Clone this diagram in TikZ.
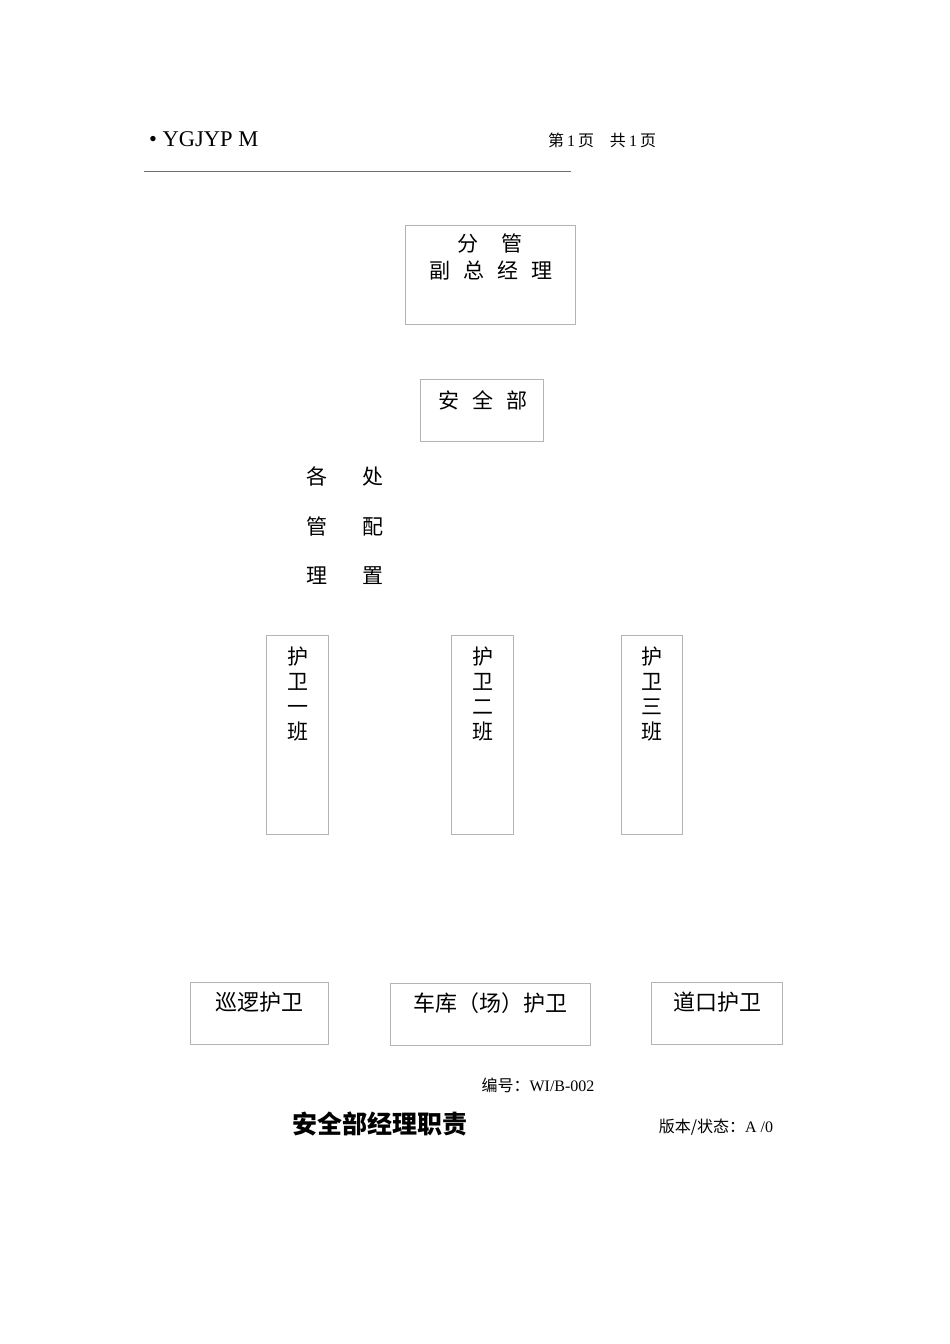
\documentclass[tikz,border=0pt]{standalone}
\usepackage{fontspec}
\setmainfont{Liberation Serif}
\newfontfamily\cjk{Noto Sans CJK SC}
\definecolor{boxgray}{HTML}{B4B4B4}
\definecolor{rulegray}{HTML}{707070}
\begin{document}
\begin{tikzpicture}[x=1pt,y=-1pt,
  box/.style={draw=boxgray,line width=0.8pt,inner sep=0pt,anchor=north west},
  lbl/.style={inner sep=0pt,anchor=center,text=black},
  cj/.style={lbl,font=\cjk\fontsize{21}{25}\selectfont},
  vcol/.style={lbl,align=center,font=\cjk\fontsize{21}{25.3}\selectfont},
  small/.style={lbl,font=\fontsize{16}{18}\selectfont}]
\useasboundingbox[fill=white] (0,0) rectangle (950,1344);
% header
\node[lbl,anchor=west,font=\fontsize{22.5}{24}\selectfont] (hdl) at (149,139) {• YGJYP M};
\node[small] (hdr) at (602,140) {{\cjk 第}\hspace{3pt}1\hspace{3pt}{\cjk 页}\hspace{16pt}{\cjk 共}\hspace{3pt}1\hspace{3pt}{\cjk 页}};
\coordinate (r1) at (144,171);
\coordinate (r2) at (571,171);
\draw[rulegray,line width=1pt] (r1) -- (r2);
% boxes
\node[box,minimum width=170pt,minimum height=99pt] (fg) at (405,225) {};
\node[box,minimum width=123pt,minimum height=62pt] (aq) at (420,379) {};
\node[box,minimum width=62pt,minimum height=199pt] (h1) at (266,635) {};
\node[box,minimum width=62pt,minimum height=199pt] (h2) at (451,635) {};
\node[box,minimum width=61pt,minimum height=199pt] (h3) at (621,635) {};
\node[box,minimum width=138pt,minimum height=62pt] (xl) at (190,982) {};
\node[box,minimum width=200pt,minimum height=62pt] (ck) at (390,983) {};
\node[box,minimum width=131pt,minimum height=62pt] (dk) at (651,982) {};
% texts in boxes
\node[cj] (fgt1) at (490,244) {分\hspace{24pt}管};
\node[cj] (fgt2) at (491,271) {副\hspace{13pt}总\hspace{13pt}经\hspace{13pt}理};
\node[cj] (aqt) at (483,400) {安\hspace{13pt}全\hspace{13pt}部};
\node[vcol] (h1t) at (298,694) {护\\卫\\一\\班};
\node[vcol] (h2t) at (483,694) {护\\卫\\二\\班};
\node[vcol] (h3t) at (652,694) {护\\卫\\三\\班};
\node[lbl,font=\cjk\fontsize{22}{24}\selectfont] (xlt) at (259,1002) {巡逻护卫};
\node[lbl,font=\cjk\fontsize{22}{24}\selectfont] (ckt) at (490,1003) {车库（场）护卫};
\node[lbl,font=\cjk\fontsize{22}{24}\selectfont] (dkt) at (717,1002) {道口护卫};
% free text
\node[lbl,align=center,font=\cjk\fontsize{21}{49.5}\selectfont] (gc) at (345,526) {各\hspace{35pt}处\\管\hspace{35pt}配\\理\hspace{35pt}置};
\node[small] (bh) at (538,1085) {{\cjk 编号：}WI/B-002};
\node[lbl,font=\cjk\bfseries\fontsize{25}{28}\selectfont] (title) at (380,1124) {安全部经理职责};
\node[small] (bb) at (716,1127) {{\cjk 版本/状态：}A /0};
\end{tikzpicture}
\end{document}
